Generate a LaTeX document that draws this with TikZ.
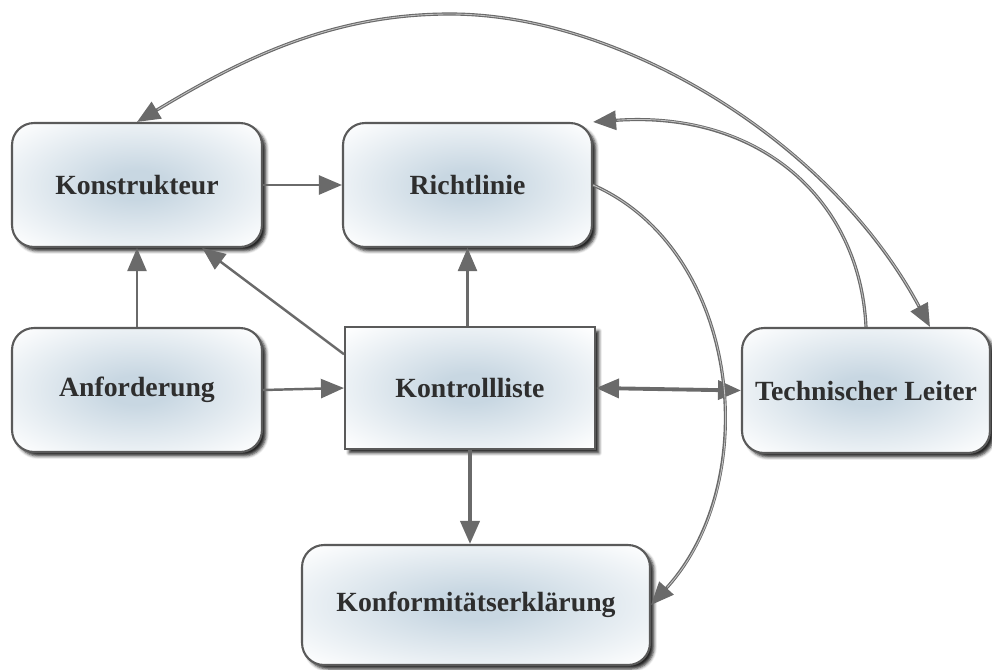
\documentclass[tikz,border=0pt]{standalone}
\usepackage{fontspec}
\setmainfont{Liberation Serif}
\usetikzlibrary{arrows.meta,shadows.blur,calc}
\definecolor{linec}{HTML}{6A6A6A}
\definecolor{bordc}{HTML}{5A5A5A}
\definecolor{txtc}{HTML}{2E2E2E}
\definecolor{shadec}{HTML}{C8D7E2}
\pgfdeclareradialshading{boxshade}{\pgfpoint{0bp}{0bp}}{color(0bp)=(shadec); color(6bp)=(shadec); color(34bp)=(white!97!shadec); color(72bp)=(white)}
\begin{document}
\begin{tikzpicture}[x=0.02cm,y=-0.02cm,
  base/.style={draw=bordc, line width=1.2pt, shading=boxshade,
    font=\fontsize{15.8}{19}\selectfont\bfseries, text=txtc, inner sep=0pt,
    blur shadow={shadow xshift=0.08cm, shadow yshift=-0.08cm, shadow blur radius=0.06cm, shadow opacity=85}},
  rbox/.style={base, rounded corners=0.44cm},
  tip/.tip={Triangle[length=0.46cm,width=0.38cm]},
  arr/.style={draw=linec, line width=1.4pt, -tip},
  thickarr/.style={draw=linec, line width=2.2pt, -tip},
  curve/.style={arr, line width=1.8pt, postaction={draw=linec!40, line width=0.5pt, -, shorten >=0.48cm}},
  curve2/.style={arr, tip-tip, line width=1.8pt, postaction={draw=linec!40, line width=0.5pt, -, shorten >=0.48cm, shorten <=0.48cm}},
]
\useasboundingbox (0,0) rectangle (992,670);

\node[rbox, minimum width=5cm, minimum height=2.48cm] (K) at (137,185) {Konstrukteur};
\node[rbox, minimum width=4.98cm, minimum height=2.48cm] (R) at (467.5,185) {Richtlinie};
\node[rbox, minimum width=5cm, minimum height=2.48cm] (A) at (137,390) {Anforderung};
\node[base, minimum width=5cm, minimum height=2.44cm] (KL) at (470,388) {Kontrollliste};
\node[rbox, minimum width=4.96cm, minimum height=2.5cm] (TL) at (866,390.5) {Technischer Leiter};
\node[rbox, minimum width=6.96cm, minimum height=2.4cm] (KC) at (476,605) {Konformitätserklärung};

\coordinate (top) at (450,14);

\draw[arr] (K.east) -- (R.west);
\draw[arr] (A.north) -- (K.south);
\draw[arr] (KL.165) -- (K.-44);
\draw[arr] (A.east) -- (KL.west);
\draw[arr] (R.south |- KL.north) -- (R.south);
\draw[thickarr] (KL.south) -- (KL.south |- KC.north);
\draw[thickarr, tip-tip] (KL.east) -- (TL.west);
\draw[curve] (R.east) .. controls (740,250) and (765,480) .. (KC.east);
\draw[curve] (TL.north) .. controls (860,200) and (760,110) .. (R.north east);
\draw[curve2] (K.north) .. controls (240,60) and (330,14) .. (top)
  .. controls (620,14) and (830,140) .. ([xshift=1.28cm]TL.north);
\end{tikzpicture}
\end{document}
